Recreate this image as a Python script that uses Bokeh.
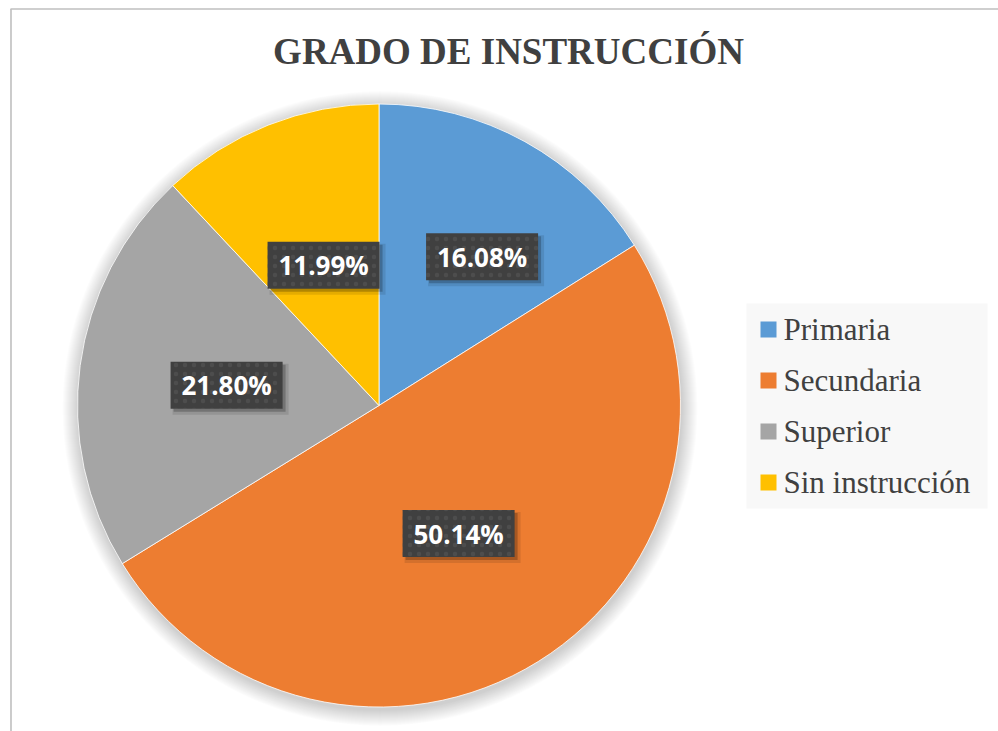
import math
from bokeh.plotting import figure
from bokeh.models import Range1d, ColumnDataSource
from bokeh.core.properties import value
from bokeh.embed import file_html
from bokeh.resources import INLINE

# ---- data ----
title_text = "GRADO DE INSTRUCCIÓN"
categories = ["Primaria", "Secundaria", "Superior", "Sin instrucción"]
percentages = [16.08, 50.14, 21.80, 11.99]
colors = ["#5B9BD5", "#ED7D31", "#A5A5A5", "#FFC000"]

# ---- layout (screen pixel mapping) ----
W, H = 998, 731
def sy(y):
    return H - y

CX, CY, R = 378.5, sy(405), 301.5

p = figure(width=W, height=H, x_range=Range1d(0, W), y_range=Range1d(0, H),
           output_backend="svg", toolbar_location=None, min_border=0,
           x_axis_location=None, y_axis_location=None)
p.grid.visible = False
p.outline_line_color = None
p.background_fill_color = "white"
p.border_fill_color = "white"

# chart area border (left and top visible)
p.segment(x0=[10.5, 10], y0=[0, sy(8.5)], x1=[10.5, W], y1=[sy(8.5), sy(8.5)],
          line_color="#BFBFBF", line_width=1.6)

# soft shadow around the pie
for i in range(16, 0, -1):
    p.circle(x=[CX + 1], y=[CY - 3], radius=R + i, fill_color="#000000",
             fill_alpha=0.011, line_color=None)

# wedges
total = sum(percentages)
starts, ends, mids = [], [], []
cum = 0.0
for v in percentages:
    a0 = math.pi / 2 - 2 * math.pi * cum / total
    cum += v
    a1 = math.pi / 2 - 2 * math.pi * cum / total
    starts.append(a0)
    ends.append(a1)
    mids.append((a0 + a1) / 2)

src = ColumnDataSource(dict(start=starts, end=ends, color=colors, cat=categories))
p.wedge(x=CX, y=CY, radius=R, start_angle="start", end_angle="end", direction="clock",
        fill_color="color", line_color="white", line_width=0.8, source=src)

# data labels
label_r = [0.60, 0.50, 0.51, 0.50]
label_shift = [-5.8, 0.0, 0.0, 0.0]
lx, ly, ltxt = [], [], []
for m, rf, sh, v in zip(mids, label_r, label_shift, percentages):
    a = m + math.radians(sh)
    lx.append(CX + rf * R * math.cos(a))
    ly.append(CY + rf * R * math.sin(a))
    ltxt.append(f"{v:.2f}%")

BW, BH = 112, 47
# box shadows
p.rect(x=[x + 4 for x in lx], y=[y - 4 for y in ly], width=BW + 4, height=BH + 4,
       fill_color="#000000", fill_alpha=0.10, line_color=None)
p.rect(x=[x + 3 for x in lx], y=[y - 3 for y in ly], width=BW, height=BH,
       fill_color="#000000", fill_alpha=0.22, line_color=None)
p.rect(x=lx, y=ly, width=BW, height=BH, fill_color="#404040", line_color=None,
       hatch_pattern="dot", hatch_color="#555555", hatch_scale=9, hatch_alpha=0.6)
p.text(x=lx, y=ly, text=ltxt, text_font=value("Open Sans"),
       text_font_style="bold", text_font_size="26px", text_color="white",
       text_align="center", text_baseline="middle")

# title
p.text(x=[508], y=[sy(51)], text=[title_text], text_font=value("Liberation Serif"),
       text_font_style="bold", text_font_size="37px", text_color="#404040",
       text_align="center", text_baseline="middle")

# legend
LX0, LY0, LX1, LY1 = 746, 303, 987, 508
p.quad(left=[LX0], right=[LX1], top=[sy(LY0)], bottom=[sy(LY1)],
       fill_color="#F8F8F8", line_color=None)
rows_y = [sy(329 + 51 * i) for i in range(len(categories))]
p.rect(x=[768] * len(categories), y=rows_y, width=16, height=16,
       fill_color=colors, line_color=None)
p.text(x=[783] * len(categories), y=rows_y, text=categories,
       text_font=value("Liberation Serif"), text_font_size="31px",
       text_color="#404040", text_align="left", text_baseline="middle")

open("out.html", "w").write(file_html(p, INLINE))
